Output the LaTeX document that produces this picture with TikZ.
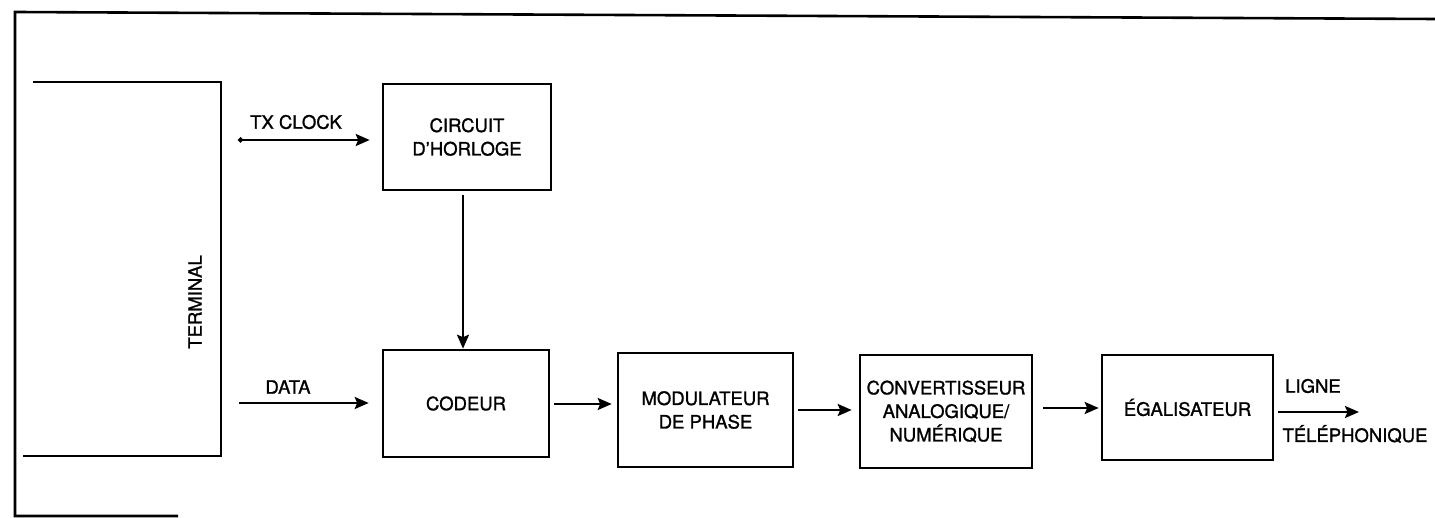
\documentclass[tikz,border=0pt]{standalone}
\usepackage{fontspec}
\setmainfont{TeX Gyre Heros}[FakeBold=1.2]
\usetikzlibrary{arrows.meta}
\begin{document}
\begin{tikzpicture}[x=1pt,y=-1pt,
  blk/.style={draw,line width=2.6pt,inner sep=0pt,align=center,font=\fontsize{18.5}{23.5}\selectfont},
  lbl/.style={inner sep=0pt,font=\fontsize{18.5}{23.5}\selectfont},
  tip/.tip={Stealth[length=14pt,width=12pt,inset=2.5pt]},
  arr/.style={line width=2.4pt,-tip},
  frame/.style={line width=2.6pt}]
\useasboundingbox (0,0) rectangle (1435,518);
% outer frame (partial)
\draw[frame] (1435,19) -- (15,12) -- (15,516) -- (178,516);
% terminal
\draw[frame] (33,82) -- (221,82) -- (221,456) -- (23,456);
\node[lbl,rotate=90] (term) at (195,302) {TERMINAL};
% blocks
\node[blk,minimum width=168pt,minimum height=106pt] (clk) at (467,137) {CIRCUIT\\D'HORLOGE};
\node[blk,minimum width=166pt,minimum height=107pt] (cod) at (466,403.5) {CODEUR};
\node[blk,minimum width=175pt,minimum height=114pt] (mod) at (705.5,410) {MODULATEUR\\DE PHASE};
\node[blk,minimum width=172pt,minimum height=113pt] (conv) at (946,411.5) {CONVERTISSEUR\\ANALOGIQUE/\\NUMÉRIQUE};
\node[blk,minimum width=171pt,minimum height=105pt] (egal) at (1187.5,407.5) {ÉGALISATEUR};
% free ends
\coordinate (txs) at (238,140);
\coordinate (das) at (239,403);
\coordinate (out) at (1359,412);
% labels
\node[lbl] (txl) at (296,122) {TX CLOCK};
\node[lbl] (dal) at (288,387) {DATA};
\node[lbl] (lig) at (1313,386) {LIGNE};
\node[lbl] (tel) at (1355,434) {TÉLÉPHONIQUE};
% connectors
\draw[line width=2.4pt,{Circle[length=5pt]}-tip,shorten >=12pt] (txs) -- (clk.west |- txs);
\draw[arr,shorten >=13pt] (das) -- (cod.west |- das);
\draw[arr,shorten <=4pt] (clk.south -| 463,0) -- (cod.north -| 463,0);
\draw[arr,shorten <=4pt,shorten >=5pt] (cod.east |- 0,404) -- (mod.west |- 0,404);
\draw[arr,shorten <=4pt,shorten >=7pt] (mod.east |- 0,410) -- (conv.west |- 0,410);
\draw[arr,shorten <=10pt,shorten >=2pt] (conv.east |- 0,408) -- (egal.west |- 0,408);
\draw[arr,shorten <=4pt] (egal.east |- out) -- (out);
\end{tikzpicture}
\end{document}
